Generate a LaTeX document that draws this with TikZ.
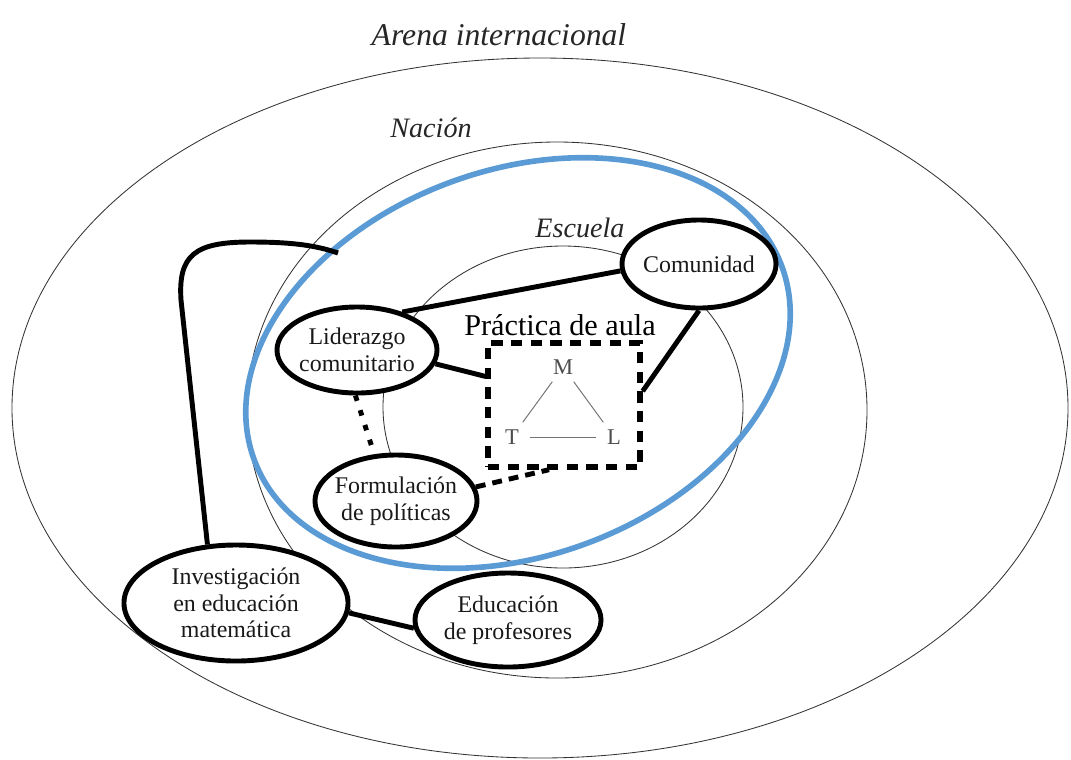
\documentclass[tikz,border=0pt]{standalone}
\usepackage{fontspec}
\setmainfont{Liberation Serif}
\usepackage{xcolor}
\usepackage{tikz}
\usetikzlibrary{shapes.geometric, arrows.meta, positioning, calc}
\definecolor{nivelazul}{RGB}{91,155,213}

\begin{document}
\begin{tikzpicture}[
    x=0.025cm, y=-0.025cm,
    % Node styles
    actor/.style={ellipse, draw=black, line width=3.5pt, fill=white, inner xsep=-8pt, inner ysep=-2pt, align=center, text=black!90, font=\fontsize{17}{19}\selectfont},
    levellab/.style={font=\fontsize{20}{24}\selectfont\itshape, text=black!85},
    vertex/.style={font=\fontsize{16}{18}\selectfont, text=black!70, inner sep=5pt},
    % Line styles
    level/.style={draw=black!80, line width=0.6pt},
    link/.style={line width=3.5pt, black},
    dotlink/.style={line width=3.5pt, black, dash pattern=on 4pt off 7pt},
    dashlink/.style={line width=3.5pt, black, dash pattern=on 7pt off 5pt},
    triline/.style={line width=0.7pt, black!55}
]
\useasboundingbox (0,0) rectangle (1071,759);

% Levels (nested ellipses)
\draw[level] (540,408) ellipse (528 and 350);
\draw[level] (557,410) ellipse (310 and 268);
\draw[level] (563,407) ellipse (180 and 161);
\draw[nivelazul, line width=4pt, rotate around={20:(518,363)}] (518,363) ellipse (281 and 193);

\node[font=\fontsize{22.5}{26}\selectfont\itshape, text=black!85] (arena) at (499,35) {Arena internacional};
\node[levellab] (nacion) at (431,128) {Nación};
\node[levellab] (escuela) at (580,228) {Escuela};

% === CLASSROOM ===
\node[draw, line width=3.8pt, dash pattern=on 8pt off 6pt, minimum width=3.8cm, minimum height=3.1cm] (aula) at (564,405) {};
\node[font=\fontsize{21.5}{24}\selectfont] (aulalab) at (560,325) {Práctica de aula};

\node[vertex] (m) at (563,367) {M};
\node[vertex] (t) at (512,437) {T};
\node[vertex] (l) at (614,437) {L};
\draw[triline] (m) -- (t);
\draw[triline] (m) -- (l);
\draw[triline, shorten <=3pt, shorten >=3pt] (t) -- (l);

% === ACTORS ===
\node[actor, minimum width=3.85cm, minimum height=2.2cm] (comunidad) at (699,264) {Comunidad};
\node[actor, minimum width=4cm, minimum height=2.15cm] (liderazgo) at (357,350) {Liderazgo\\comunitario};
\node[actor, minimum width=4.05cm, minimum height=2.3cm] (formulacion) at (396,501) {Formulación\\de políticas};
\node[actor, minimum width=5.6cm, minimum height=2.9cm] (investigacion) at (236,603) {Investigación\\en educación\\matemática};
\node[actor, minimum width=4.65cm, minimum height=2.35cm] (educacion) at (508,620) {Educación\\de profesores};

% Links
\draw[link] (liderazgo.40) -- (comunidad.185);
\draw[link] (liderazgo.-10) -- (aula.160);
\draw[link] (comunidad.south) -- (aula.10);
\draw[dotlink] (liderazgo.-92) -- (formulacion.115);
\draw[dashlink] (formulacion.10) -- (aula.-103);
\coordinate (azul) at (338,253);
\draw[link] (investigacion.116) -- (181,300) .. controls (178,255) and (195,242) .. (250,242) .. controls (290,242) and (315,245) .. (azul);
\draw[link] (investigacion.-5) -- (educacion.185);

\end{tikzpicture}
\end{document}
